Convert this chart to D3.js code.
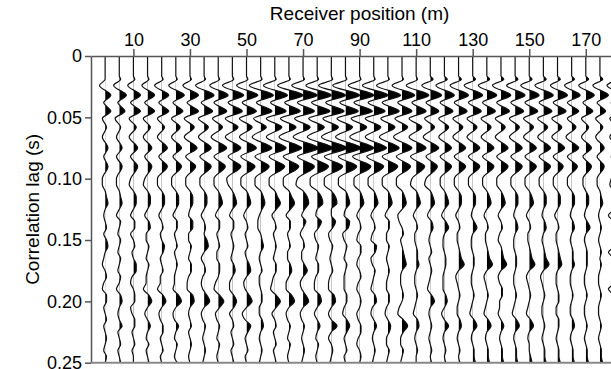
<!DOCTYPE html>
<html>
<head>
<meta charset="utf-8">
<script src="https://cdn.jsdelivr.net/npm/d3@7"></script>
<style>
  html, body { margin: 0; padding: 0; background: #fff; }
  svg { display: block; font-family: "Liberation Sans", Arial, sans-serif; }
</style>
</head>
<body>
<div id="chart"></div>
<script>
// receiver positions (m), one wiggle trace each
const receiverPositions = [0, 5, 10, 15, 20, 25, 30, 35, 40, 45, 50, 55, 60, 65, 70, 75, 80, 85,
  90, 95, 100, 105, 110, 115, 120, 125, 130, 135, 140, 145, 150, 155, 160, 165, 170, 175, 180];

// correlation lag (s) of the knots each trace is read at
const lagKnots = [0, 0.016, 0.019, 0.024, 0.032, 0.038, 0.045, 0.051, 0.058, 0.066, 0.075, 0.082, 0.090, 0.100,
  0.105, 0.110, 0.115, 0.120, 0.125, 0.130, 0.135, 0.140, 0.145, 0.150, 0.155, 0.160, 0.165, 0.170, 0.175,
  0.180, 0.185, 0.190, 0.195, 0.200, 0.205, 0.210, 0.215, 0.220, 0.225, 0.230, 0.235, 0.240, 0.245, 0.250];

// amplitude at each knot, in tenths of a trace spacing (positive = filled black)
const traceAmplitudes = [
  [0,0,0,-4,4,-1,4,-2,1,-2,2,-1,2,-2, -2,0,1,2,0,-1,0,1,-1,1,2,0,-1,-2,0,1,-1,-2,1,1,-1,0,1,-1,0,1,0,-1,1,0],
  [0,0,1,-4,5,-1,4,-3,1,-2,2,-2,2,-2, -2,0,1,2,0,-2,1,0,-1,1,0,-1,1,0,-1,1,0,-2,1,2,0,-1,0,2,-1,0,1,-1,0,1],
  [0,0,1,-4,5,-2,5,-3,2,-3,3,-2,3,-2, -3,0,2,2,0,-2,1,1,-2,0,1,-1,0,2,2,-1,-2,0,1,1,-2,-1,1,1,-1,0,1,-1,0,0],
  [0,0,1,-4,5,-2,5,-3,2,-3,3,-2,3,-2, -3,0,2,2,0,-2,1,2,-1,-1,1,0,-1,1,0,-1,-1,-3,1,3,0,-2,0,2,0,-1,1,-1,0,1],
  [0,0,1,-5,5,-2,5,-3,2,-3,4,-2,4,-3, -3,0,2,2,0,-2,0,1,-1,0,2,1,-1,0,1,-1,-1,-3,1,3,0,-2,-1,1,1,-1,0,1,-1,0],
  [0,0,1,-5,6,-2,5,-3,3,-3,4,-2,4,-3, -3,0,2,2,0,-2,1,1,-1,0,1,-1,0,1,0,-1,-1,-2,2,4,0,-2,-1,2,0,-1,1,0,-1,1],
  [0,0,1,-5,6,-2,6,-4,3,-4,5,-3,4,-3, -3,0,2,2,0,-1,2,2,-1,-1,1,0,-1,1,1,-1,-2,-2,2,3,0,-1,0,1,-1,0,1,0,-1,0],
  [0,0,1,-6,7,-2,6,-4,3,-4,5,-3,5,-3, -3,0,2,2,0,-2,0,1,0,2,3,0,-2,0,1,-1,-2,-1,2,4,0,-2,-1,1,0,-1,0,1,0,-1],
  [0,0,1,-6,7,-3,6,-4,3,-5,6,-3,5,-3, -3,0,2,3,0,-2,1,1,-1,0,1,-1,-1,1,1,0,-2,-3,1,4,1,-2,-1,1,0,-1,1,0,-1,0],
  [0,0,1,-7,8,-3,7,-5,4,-5,6,-3,6,-4, -3,0,2,3,0,-2,1,1,-1,0,1,0,-1,1,2,0,-2,-2,1,3,1,-2,0,1,-1,0,1,-1,0,1],
  [0,0,1,-7,8,-3,7,-5,4,-5,7,-4,6,-4, -4,0,2,3,0,-2,0,1,-1,0,1,-1,0,2,3,0,-2,-1,2,4,0,-3,-1,3,1,-1,0,1,-1,0],
  [0,0,1,-8,9,-3,8,-5,4,-6,8,-4,6,-4, -4,0,2,3,1,-1,-2,-2,0,1,2,0,-1,0,1,-1,-1,0,1,1,-1,-1,1,2,0,-1,0,1,0,-1],
  [0,0,1,-8,9,-3,8,-6,5,-6,8,-4,7,-4, -4,0,2,4,1,-2,0,1,-1,0,1,0,-1,1,1,-1,-2,-3,1,4,1,-2,0,1,-1,0,1,-1,0,1],
  [0,0,1,-8,10,-3,8,-6,5,-7,9,-4,7,-4, -4,0,2,4,1,-2,1,1,-1,0,1,-1,-1,1,2,0,-2,-2,2,4,0,-2,-1,1,0,-1,1,0,-1,0],
  [0,0,1,-8,10,-4,8,-6,5,-7,11,-4,8,-4, -5,0,3,4,1,-1,2,0,-2,0,1,-1,-1,1,3,0,-2,-1,2,4,0,-2,-1,1,0,-1,0,1,0,-1],
  [0,0,1,-8,10,-4,9,-6,5,-7,11,-4,8,-5, -5,0,3,4,0,-1,3,1,-2,-1,1,0,-1,1,1,-1,-2,-2,2,3,0,-2,0,2,0,-1,1,0,-1,0],
  [0,0,1,-9,10,-4,9,-6,5,-7,11,-5,8,-5, -5,0,3,4,0,0,3,1,-2,-1,1,0,-1,0,1,-1,-2,-2,2,3,0,-2,0,4,0,-2,0,1,0,-1],
  [0,0,1,-9,10,-4,9,-6,5,-7,11,-5,8,-5, -5,0,2,3,0,-1,3,2,-2,-1,1,0,-1,1,0,-1,-1,-1,1,1,-1,-2,1,3,1,-1,0,1,-1,0],
  [0,0,1,-8,10,-4,9,-6,5,-7,10,-5,8,-4, -4,0,2,3,0,-2,0,1,-1,-2,1,1,-1,-2,0,1,-1,-2,0,1,0,-2,-1,1,1,-1,-2,0,1,0],
  [0,0,1,-8,10,-4,8,-6,5,-6,9,-5,7,-4, -4,0,2,3,0,-2,0,1,-1,-2,2,1,-2,-1,1,0,-1,-2,1,2,-1,-2,0,2,0,-1,0,1,0,-1],
  [0,0,1,-8,9,-4,8,-5,5,-6,8,-4,7,-4, -4,0,2,3,0,-2,1,1,-1,-1,1,0,-1,0,1,0,-1,-1,1,1,-1,-2,0,2,1,-1,-1,1,0,-1],
  [0,0,1,-7,9,-3,7,-5,4,-6,7,-4,6,-4, -4,0,2,3,0,-3,-2,0,1,-1,0,1,2,3,0,-1,-1,0,1,0,-2,-3,1,4,1,-1,-1,1,0,-1],
  [0,0,1,-7,9,-3,7,-5,4,-5,7,-4,6,-3, -4,0,2,3,0,-2,0,1,-1,-1,0,1,1,2,0,-1,-1,0,1,0,-1,-2,1,2,0,-1,0,1,0,0],
  [0,0,2,-6,8,-3,6,-4,3,-5,6,-3,5,-3, -4,0,2,3,0,-2,1,2,0,-1,0,1,-1,0,1,0,-1,-2,1,3,0,-1,0,1,0,-1,0,1,0,1],
  [0,0,2,-6,7,-3,6,-4,3,-4,5,-3,5,-3, -3,0,2,3,0,-2,1,3,0,-1,-1,0,1,1,0,-1,-1,-1,1,2,0,-2,0,3,0,-1,0,1,0,1],
  [0,0,2,-6,7,-3,6,-4,3,-4,5,-3,5,-3, -3,0,2,2,0,-2,0,1,-1,-1,0,1,2,4,0,-2,-1,0,1,0,-1,-1,1,2,0,-1,0,1,0,1],
  [0,0,2,-6,7,-3,6,-4,3,-4,5,-3,5,-3, -3,0,2,2,0,-1,1,3,0,-1,-1,0,1,1,0,-1,-1,0,1,0,-1,-2,1,3,0,-1,0,1,1,2],
  [0,0,2,-6,7,-3,6,-4,3,-4,5,-3,5,-3, -3,0,2,3,0,-2,0,1,-1,-1,0,1,2,4,0,-2,-1,0,1,0,-1,-2,1,3,0,-1,0,1,1,2],
  [0,0,2,-6,7,-3,6,-4,3,-4,5,-3,5,-3, -3,0,2,3,0,-2,0,1,-1,-2,0,1,2,4,0,-2,-1,1,1,-1,-1,-2,0,2,0,-1,0,1,1,2],
  [0,0,2,-6,7,-3,6,-4,3,-4,5,-3,5,-3, -3,0,2,2,0,-1,1,2,0,-1,-1,0,1,1,0,-1,-1,0,1,0,-1,-2,1,3,0,-1,0,1,1,2],
  [0,0,2,-6,7,-3,6,-4,3,-4,5,-3,5,-3, -3,0,2,3,0,-2,0,1,-1,-1,0,1,2,4,0,-2,-1,0,1,0,-1,-2,1,3,0,-1,0,0,1,2],
  [0,0,2,-6,7,-3,6,-4,3,-4,5,-3,5,-3, -3,0,2,2,0,-1,1,2,0,-1,0,1,2,4,0,-2,-1,0,1,0,-1,-1,0,1,0,-1,0,1,1,2],
  [0,0,2,-5,7,-3,6,-4,3,-4,5,-3,4,-3, -3,0,2,2,0,-2,0,1,-1,-1,0,1,2,3,0,-1,-1,0,1,1,-1,-1,1,1,0,-1,0,1,1,2],
  [0,0,2,-5,6,-3,5,-3,3,-4,5,-3,4,-3, -3,0,2,2,0,-1,1,2,0,-1,0,1,1,2,0,-1,-1,0,1,0,-1,-1,1,2,0,-1,0,1,1,2],
  [0,0,2,-5,6,-2,5,-3,2,-3,4,-2,4,-2, -2,0,2,2,0,-1,1,3,0,-1,0,1,1,1,0,-1,-1,0,1,0,-1,-1,0,1,0,-1,0,1,1,2],
  [0,0,2,-5,6,-2,4,-3,2,-3,3,-2,3,-2, -2,0,1,2,0,-1,0,1,0,-1,0,1,0,1,0,-1,-1,0,1,0,-1,-1,0,1,0,-1,0,1,1,2],
  [0,0,1,-5,6,-2,4,-3,2,-3,3,-2,3,-2, -3,0,2,2,0,-4,0,1,0,-1,0,-4,0,1,0,-1,0,-4,0,1,0,-1,0,1,0,-1,0,1,0,1]
];

const xTickValues = [10, 30, 50, 70, 90, 110, 130, 150, 170];
const yTickValues = [0, 0.05, 0.10, 0.15, 0.20, 0.25];
const yTickLabels = ['0', '0.05', '0.10', '0.15', '0.20', '0.25'];

const width = 611, height = 369;

const svg = d3.select('#chart')
  .append('svg')
  .attr('width', width)
  .attr('height', height);

const x = d3.scaleLinear().domain([-5, 185]).range([91, 628.2]);
const y = d3.scaleLinear().domain([0, 0.25]).range([56, 362.7]);
const spacing = x(5) - x(0);
const amp = d3.scaleLinear().domain([-10, 10]).range([-spacing, spacing]);

// monotone in time keeps the peaks round
const curve = d3.curveMonotoneY;
const defs = svg.append('defs');
const traces = svg.append('g');

receiverPositions.forEach((pos, i) => {
  const base = x(pos);
  const pts = lagKnots.map((t, k) => ({ t: t, a: traceAmplitudes[i][k] }));

  defs.append('clipPath').attr('id', 'pos' + i)
    .append('rect')
    .attr('x', base)
    .attr('y', y(0))
    .attr('width', spacing * 2)
    .attr('height', y(0.25) - y(0));

  // positive lobes filled
  const area = d3.area()
    .y(d => y(d.t))
    .x0(base)
    .x1(d => base + amp(d.a))
    .curve(curve);

  traces.append('path')
    .datum(pts)
    .attr('d', area)
    .attr('fill', '#000')
    .attr('clip-path', `url(#pos${i})`);

  const line = d3.line()
    .y(d => y(d.t))
    .x(d => base + amp(d.a))
    .curve(curve);

  traces.append('path')
    .datum(pts)
    .attr('d', line)
    .attr('fill', 'none')
    .attr('stroke', '#111')
    .attr('stroke-width', 1.2);
});

// axes
const axisColor = '#555';

const topAxis = svg.append('g')
  .attr('transform', `translate(0,${y(0)})`)
  .call(d3.axisTop(x).tickValues(xTickValues).tickSize(7).tickPadding(3).tickSizeOuter(0));

const leftAxis = svg.append('g')
  .attr('transform', `translate(${x(-5)},0)`)
  .call(d3.axisLeft(y).tickValues(yTickValues).tickFormat((d, i) => yTickLabels[i])
    .tickSize(6).tickPadding(3).tickSizeOuter(0));

svg.append('line')
  .attr('x1', x(-5))
  .attr('x2', x(185))
  .attr('y1', y(0.25))
  .attr('y2', y(0.25))
  .attr('stroke', '#888')
  .attr('stroke-width', 2);

[topAxis, leftAxis].forEach(g => {
  g.selectAll('path, line').attr('stroke', axisColor).attr('stroke-width', 1.5);
  g.selectAll('text')
    .attr('fill', '#000')
    .style('font-size', '18px')
    .style('font-family', '"Liberation Sans", Arial, sans-serif');
});

svg.append('text')
  .attr('x', x(90))
  .attr('y', 20)
  .attr('text-anchor', 'middle')
  .style('font-size', '19px')
  .text('Receiver position (m)');

svg.append('text')
  .attr('transform', `translate(39,${y(0.125)}) rotate(-90)`)
  .attr('text-anchor', 'middle')
  .style('font-size', '19px')
  .text('Correlation lag (s)');
</script>
</body>
</html>
